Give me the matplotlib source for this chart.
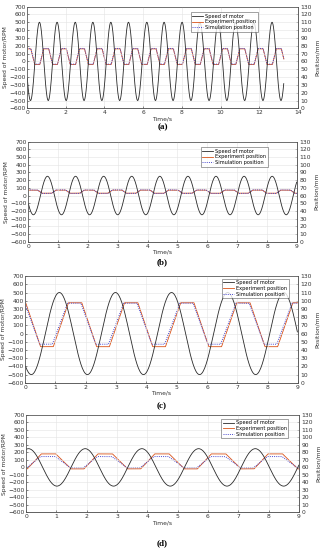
import numpy as np
import matplotlib
matplotlib.use('Agg')
import matplotlib.pyplot as plt

# ---- data ----
# speed peak times (s) for each panel, amplitude in RPM
peaks_a = [0.64, 1.55, 2.49, 3.40, 4.33, 5.24, 6.19, 7.08, 8.01, 8.93, 9.88, 10.77, 11.72, 12.66]
peaks_b = [0.65, 1.59, 2.53, 3.47, 4.41, 5.35, 6.29, 7.23, 8.17]
peaks_c = [1.13, 2.98, 4.83, 6.68, 8.53]
peaks_d = [0.08, 1.95, 3.82, 5.69, 7.56]
amp = {'a': 500, 'b': 250, 'c': 500, 'd': 250}
t_end = {'a': 13.27, 'b': 9.0, 'c': 9.0, 'd': 9.0}
x_max = {'a': 14, 'b': 9, 'c': 9, 'd': 9}
x_step = {'a': 2, 'b': 1, 'c': 1, 'd': 1}

# position corners relative to each speed peak: rise start, rise end, drop start, drop end
pos_corners = {
    'a': [0.02, 0.22, 0.48, 0.68],
    'b': [0.14, 0.29, 0.61, 0.76],
    'c': [-0.20, 0.30, 0.74, 1.23],
    'd': [-0.04, 0.42, 0.90, 1.40],
}
# position levels (mm): experiment low/high, simulation low/high
exp_levels = {'a': (56, 76), 'b': (63, 67), 'c': (44, 97.5), 'd': (58, 78)}
sim_levels = {'a': (56.5, 76.5), 'b': (62.7, 67.3), 'c': (47, 97), 'd': (59.5, 74.5)}
sim_shift = {'a': 0.0, 'b': 0.0, 'c': -0.03, 'd': -0.02}

labels = ['Speed of motor', 'Experiment position', 'Simulation position']
panel_names = ['(a)', '(b)', '(c)', '(d)']

# axes placement in figure fraction [left, bottom, width, height]
boxes = {
    'a': [0.083, 0.803, 0.831, 0.185],
    'b': [0.086, 0.5605, 0.825, 0.182],
    'c': [0.077, 0.304, 0.837, 0.194],
    'd': [0.080, 0.0685, 0.837, 0.177],
}
legend_anchor = {'a': (0.86, 0.97), 'b': (0.90, 0.97), 'c': (0.975, 1.0), 'd': (0.97, 0.985)}
label_y = {'a': 0.769, 'b': 0.524, 'c': 0.262, 'd': 0.0127}

C_SPEED = '#2a2a2a'
C_EXP = '#D95319'
C_SIM = '#4A4ACF'
FS = 4.3


def speed_curve( peaks, a, tmax ):
    period = np.mean( np.diff( peaks ) ) if len( peaks ) > 1 else 1.0
    pk = [peaks[0] - period] + list( peaks ) + [peaks[-1] + period]
    ext_t, ext_v = [], []
    for i, p in enumerate( pk ):
        ext_t.append( p ); ext_v.append( a )
        if i < len( pk ) - 1:
            ext_t.append( ( p + pk[i + 1] ) / 2 ); ext_v.append( -a )
    ts, vs = [], []
    for i in range( len( ext_t ) - 1 ):
        t0, t1 = ext_t[i], ext_t[i + 1]
        v0, v1 = ext_v[i], ext_v[i + 1]
        tt = np.linspace( t0, t1, 40 )
        vv = ( v0 + v1 ) / 2 + ( v0 - v1 ) / 2 * np.cos( np.pi * ( tt - t0 ) / ( t1 - t0 ) )
        ts.append( tt ); vs.append( vv )
    ts = np.concatenate( ts ); vs = np.concatenate( vs )
    m = ( ts >= 0 ) & ( ts <= tmax )
    return ts[m], vs[m]


def position_curve( peaks, corners, levels, shift, tmax ):
    period = np.mean( np.diff( peaks ) ) if len( peaks ) > 1 else 1.0
    pk = [peaks[0] - period] + list( peaks ) + [peaks[-1] + period]
    lo, hi = levels
    ts, ps = [], []
    for p in pk:
        c = [p + x + shift for x in corners]
        ts += c
        ps += [lo, hi, hi, lo]
    ts = np.array( ts ); ps = np.array( ps )
    tt = np.linspace( 0, tmax, 1500 )
    return tt, np.interp( tt, ts, ps )


fig = plt.figure( figsize=( 3.26, 5.5 ), dpi=100 )
plt.rcParams['font.family'] = ['DejaVu Sans']

for key, peaks, name in zip( 'abcd', [peaks_a, peaks_b, peaks_c, peaks_d], panel_names ):
    ax = fig.add_axes( boxes[key] )
    ax2 = ax.twinx()
    ts, vs = speed_curve( peaks, amp[key], t_end[key] )
    l1, = ax.plot( ts, vs, color=C_SPEED, lw=0.6 )
    te, pe = position_curve( peaks, pos_corners[key], exp_levels[key], 0.0, t_end[key] )
    tsim, psim = position_curve( peaks, pos_corners[key], sim_levels[key], sim_shift[key], t_end[key] )
    l2, = ax2.plot( te, pe, color=C_EXP, lw=0.6 )
    l3, = ax2.plot( tsim, psim, color=C_SIM, lw=0.7, ls=( 0, ( 1, 1.2 ) ) )

    ax.set_xlim( 0, x_max[key] )
    ax.set_ylim( -600, 700 )
    ax2.set_ylim( 0, 130 )
    ax.set_xticks( np.arange( 0, x_max[key] + 0.1, x_step[key] ) )
    ax.set_yticks( np.arange( -600, 701, 100 ) )
    ax2.set_yticks( np.arange( 0, 131, 10 ) )
    ax.grid( True, color='#e4e4e4', lw=0.4 )
    ax.set_axisbelow( True )
    for a in ( ax, ax2 ):
        a.tick_params( labelsize=FS, length=1.5, width=0.4, pad=1, direction='in', colors='#333333' )
        for s in a.spines.values():
            s.set_linewidth( 0.5 )
            s.set_color( '#555555' )
    ax2.tick_params( axis='y', pad=2 )
    ax.tick_params( axis='x', pad=1.5 )
    ax.set_xlabel( 'Time/s', fontsize=FS, labelpad=0.5, color='#333333' )
    ax.set_ylabel( 'Speed of motor/RPM', fontsize=FS, labelpad=1, color='#333333' )
    ax2.set_ylabel( 'Position/mm', fontsize=FS, labelpad=2, color='#333333' )
    leg = ax.legend( [l1, l2, l3], labels, loc='upper right', bbox_to_anchor=legend_anchor[key],
                     fontsize=3.6, frameon=True, fancybox=False, edgecolor='#333333',
                     handlelength=2.2, borderpad=0.3, labelspacing=0.15, handletextpad=0.4 )
    leg.get_frame().set_linewidth( 0.4 )
    leg.set_zorder( 5 )
    ax.set_zorder( ax2.get_zorder() + 1 )
    ax.patch.set_visible( False )
    bx = boxes[key]
    fig.text( bx[0] + bx[2] / 2, label_y[key], name, ha='center', va='center',
              fontsize=6.5, fontweight='bold', family='Liberation Serif' )

fig.savefig( 'out.png', dpi=100 )
